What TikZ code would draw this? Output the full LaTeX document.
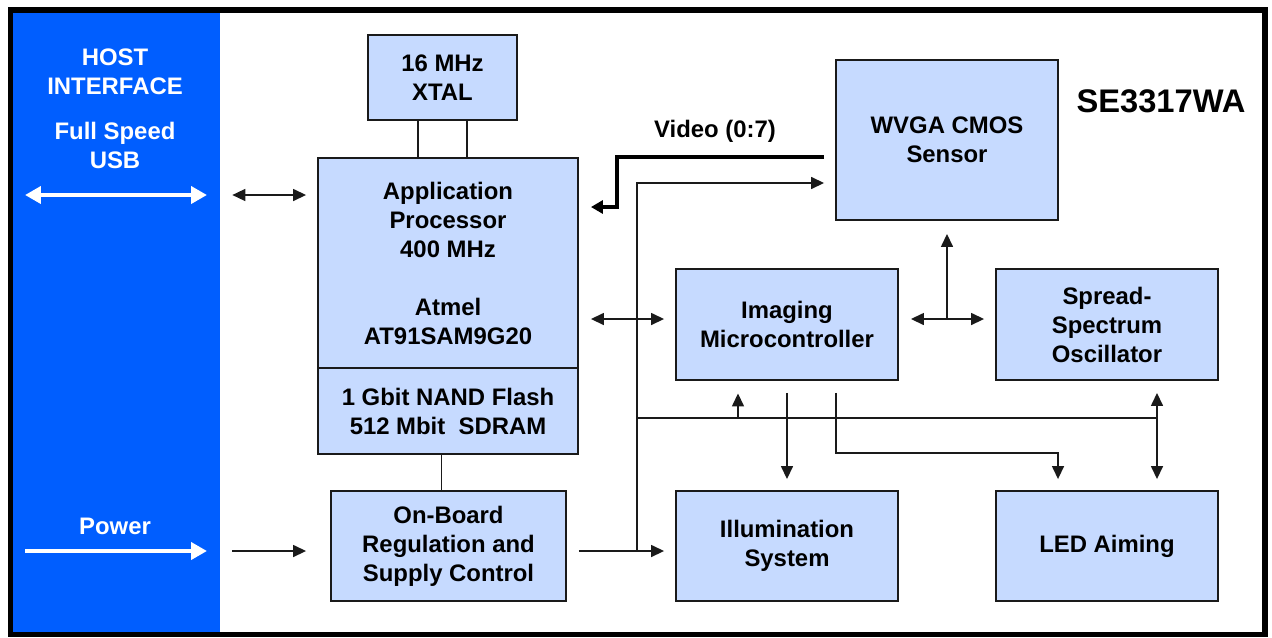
\documentclass[tikz,border=0pt]{standalone}
\usepackage{fontspec}
\setmainfont{Liberation Sans}
\usepackage{xcolor}
\definecolor{cHost}{HTML}{005EFF}
\definecolor{cBox}{HTML}{C6DAFF}
\definecolor{cLine}{HTML}{1A1A1A}
\usepackage{tikz}
\usetikzlibrary{positioning,arrows.meta}
\tikzset{
  node-box/.style={draw=cLine,line width=1.1pt,fill=cBox,inner sep=0pt,
    align=center,font=\bfseries\fontsize{13.6}{16.5}\selectfont},
  host-panel/.style={fill=cHost,inner sep=0pt},
  host-text/.style={text=white,align=center,inner sep=0pt,
    font=\bfseries\fontsize{13.6}{16.5}\selectfont},
  label-text/.style={align=center,inner sep=0pt,
    font=\bfseries\fontsize{13.6}{16.5}\selectfont},
  link/.style={line width=0.85pt,draw=cLine},
  link-gap/.style={shorten <=2.4mm,shorten >=2.2mm},
  arrow/.style={link,-{Triangle[length=2.6mm,width=2.4mm]}},
  arrow-both/.style={link,{Triangle[length=2.6mm,width=2.4mm]}-{Triangle[length=2.6mm,width=2.4mm]}},
  arrow-video/.style={line width=2pt,draw=black,-{Triangle[length=2.4mm,width=2.6mm]}},
  arrow-host/.style={draw=white,line width=2.2pt,-{Triangle[length=3.2mm,width=3.4mm]}},
  arrow-host-both/.style={draw=white,line width=2.2pt,{Triangle[length=3.2mm,width=3.4mm]}-{Triangle[length=3.2mm,width=3.4mm]}},
}
\begin{document}
\begin{tikzpicture}[x=0.02cm,y=-0.02cm]
  \useasboundingbox (0,0) rectangle (1272,637);
  % host side
  \node[host-panel,minimum width=4.14cm,minimum height=12.38cm] (host) at (116.5,322.5) {};
  \draw[line width=0.11cm] (10.5,10) rectangle (1265,634.5);
  \node[host-text] (host-lbl) at (115,109) {HOST\\INTERFACE\\[0.32cm]Full Speed\\USB};
  \node[host-text] (power-lbl) at (115,526) {Power};
  \coordinate (usb-l) at (25,195); \coordinate (usb-r) at (207,195);
  \coordinate (pwr-l) at (25,551); \coordinate (pwr-r) at (207,551);
  \draw[arrow-host-both] (usb-l) -- (usb-r);
  \draw[arrow-host] (pwr-l) -- (pwr-r);
  \node[label-text,font=\bfseries\fontsize{18.6}{21}\selectfont] (model) at (1161,101) {SE3317WA};

  % blocks
  \node[node-box,minimum width=2.98cm,minimum height=1.7cm] (xtal) at (442.5,77.5) {16 MHz\\XTAL};
  \node[node-box,minimum width=5.2cm,minimum height=4.2cm] (app) at (448,263)
    {Application\\Processor\\400 MHz\\[16.5pt]Atmel\\AT91SAM9G20};
  \node[node-box,minimum width=5.2cm,minimum height=1.72cm] (mem) at (448,411)
    {1 Gbit NAND Flash\\512 Mbit\ \ SDRAM};
  \node[node-box,minimum width=4.7cm,minimum height=2.2cm] (reg) at (448.5,546)
    {On-Board\\Regulation and\\Supply Control};
  \node[node-box,minimum width=4.44cm,minimum height=3.2cm] (cmos) at (947,140) {WVGA CMOS\\Sensor};
  \node[node-box,minimum width=4.44cm,minimum height=2.22cm] (imc) at (787,324.5) {Imaging\\Microcontroller};
  \node[node-box,minimum width=4.44cm,minimum height=2.22cm] (osc) at (1107,324.5) {Spread-\\Spectrum\\Oscillator};
  \node[node-box,minimum width=4.44cm,minimum height=2.2cm] (illum) at (787,546) {Illumination\\System};
  \node[node-box,minimum width=4.44cm,minimum height=2.2cm] (led) at (1107,546) {LED Aiming};

  % host links
  \draw[arrow-both,link-gap] (usb-r -| host.east) -- (usb-r -| app.west);
  \draw[arrow,link-gap,shorten >=4.8mm] (pwr-r -| host.east) -- (pwr-r -| reg.west);
  \draw[link] ([xshift=-0.49cm]xtal.south) -- ([xshift=-0.49cm]xtal.south |- app.north);
  \draw[link] ([xshift=0.49cm]xtal.south) -- ([xshift=0.49cm]xtal.south |- app.north);
  \draw[link] ([xshift=-0.13cm]mem.south) -- ([xshift=-0.13cm]mem.south |- reg.north);

  % supply bus
  \coordinate (bus-bot) at (637,551);
  \coordinate (bus-mid) at (637,418);
  \coordinate (bus-end) at (1157,418);
  \coordinate (tap-imc) at (738,418);
  \draw[arrow,link-gap] (pwr-r -| reg.east) -- (pwr-r -| illum.west);
  \draw[arrow,shorten >=2.2mm] (bus-bot) |- ([yshift=-0.86cm]cmos.west);
  \draw[link] (bus-mid) -- (bus-end);
  \draw[arrow,shorten >=2.5mm] (tap-imc) -- (tap-imc |- imc.south);
  \draw[arrow-both,link-gap] (bus-end |- osc.south) -- (bus-end |- led.north);

  % video
  \coordinate (video-bend) at (617,207);
  \draw[arrow-video,shorten <=2.2mm,shorten >=2.4mm] ([yshift=-0.34cm]cmos.west) -| (video-bend) -- (video-bend -| app.east);
  \node[label-text] (video-lbl) at (715,131) {Video (0:7)};

  % imaging links
  \draw[arrow-both,link-gap] ([yshift=0.11cm]imc.west -| app.east) -- ([yshift=0.11cm]imc.west);
  \draw[arrow-both,link-gap] ([yshift=0.11cm]imc.east) -- ([yshift=0.11cm]osc.west);
  \draw[arrow,shorten >=2.6mm] ([yshift=0.11cm]imc.east -| cmos.south) -- (cmos.south);
  \draw[arrow,link-gap] (imc.south) -- (illum.north);
  \draw[arrow,link-gap] ([xshift=0.98cm]imc.south) |- ([xshift=-0.98cm,yshift=0.74cm]led.north) -- ([xshift=-0.98cm]led.north);
\end{tikzpicture}
\end{document}
